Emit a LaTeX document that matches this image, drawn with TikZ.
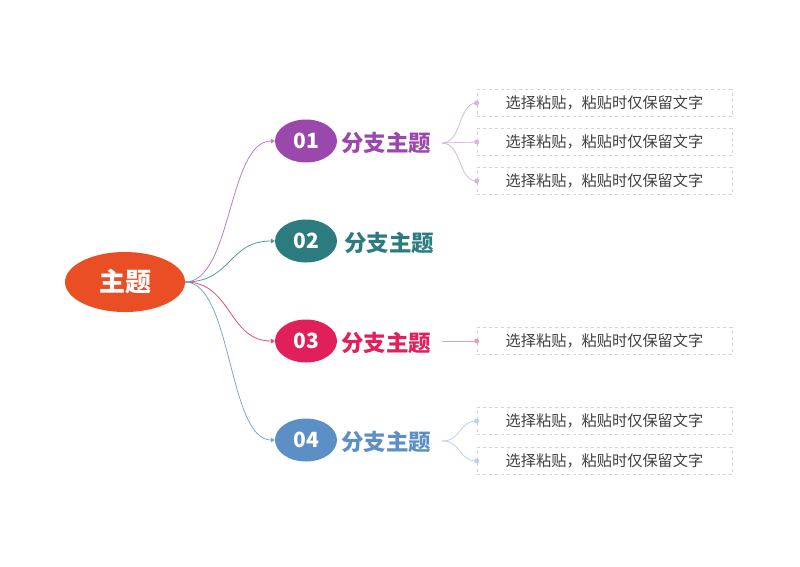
\documentclass[tikz,border=0pt]{standalone}
\usepackage{fontspec}
\setmainfont{Noto Sans CJK SC}
\usetikzlibrary{shapes.geometric, arrows.meta, positioning, calc}

\definecolor{rootred}{HTML}{E94E24}
\definecolor{brpurple}{HTML}{9B48AD}
\definecolor{brteal}{HTML}{2C7B7F}
\definecolor{brred}{HTML}{E01F5B}
\definecolor{brblue}{HTML}{5D8FC7}
\definecolor{leafgray}{HTML}{404040}
\definecolor{boxline}{HTML}{D9D0DA}

\begin{document}
\begin{tikzpicture}[x=1pt, y=-1pt,
  rootnode/.style={ellipse, fill=rootred, text=white, font=\fontsize{26}{26}\selectfont\bfseries, minimum width=120pt, minimum height=60pt, inner sep=0pt},
  brnode/.style={ellipse, fill=#1, text=white, font=\fontsize{21}{21}\selectfont\bfseries, minimum width=62pt, minimum height=43pt, inner sep=0pt},
  brlabel/.style={anchor=west, text=#1, font=\fontsize{22.5}{22.5}\selectfont\bfseries, inner sep=0pt},
  leafbox/.style={draw=boxline, dashed, line width=0.6pt, minimum width=255pt, minimum height=27pt, inner sep=0pt, text=leafgray, font=\fontsize{15.2}{15.2}\selectfont},
  leafdot/.style={circle, fill=#1, inner sep=0pt, minimum size=5pt},
  rootlink/.style={draw=#1, line width=0.8pt, -{Triangle[length=4pt, width=5pt]}},
  leaflink/.style={draw=#1, line width=0.8pt}
]
\useasboundingbox (0,0) rectangle (800,566);

% Central topic
\node[rootnode] (root) at (125,282) {主题};

% Branches
\node[brnode=brpurple] (br1) at (306,141) {01};
\node[brlabel=brpurple] (br1lab) at (341,143) {分支主题};
\node[brnode=brteal] (br2) at (306,241) {02};
\node[brlabel=brteal] (br2lab) at (344,243) {分支主题};
\node[brnode=brred] (br3) at (306,341) {03};
\node[brlabel=brred] (br3lab) at (341,343) {分支主题};
\node[brnode=brblue] (br4) at (306,440) {04};
\node[brlabel=brblue] (br4lab) at (341,442) {分支主题};

\coordinate (hub) at (185,282);
\draw[rootlink=brpurple!70] (hub) .. controls (232,282) and (228,141) .. (br1.west);
\draw[rootlink=brteal!80] (hub) .. controls (232,282) and (228,241) .. (br2.west);
\draw[rootlink=brred!80] (hub) .. controls (232,282) and (228,341) .. (br3.west);
\draw[rootlink=brblue!80] (hub) .. controls (232,282) and (228,440) .. (br4.west);

% Leaves of 01
\node[leafbox] (l11) at (604.5,103) {选择粘贴，粘贴时仅保留文字};
\node[leafbox] (l12) at (604.5,142) {选择粘贴，粘贴时仅保留文字};
\node[leafbox] (l13) at (604.5,181) {选择粘贴，粘贴时仅保留文字};
\coordinate (f1) at (442,143);
\draw[leaflink=brpurple!40] (f1) .. controls (462,143) and (458,103) .. (l11.west);
\draw[leaflink=brpurple!40] (f1) -- (l12.west);
\draw[leaflink=brpurple!40] (f1) .. controls (462,143) and (458,181) .. (l13.west);
\node[leafdot=brpurple!40] at (l11.west) {};
\node[leafdot=brpurple!40] at (l12.west) {};
\node[leafdot=brpurple!40] at (l13.west) {};

% Leaf of 03
\node[leafbox] (l31) at (604.5,341) {选择粘贴，粘贴时仅保留文字};
\coordinate (f3) at (442,341);
\draw[leaflink=brred!45] (f3) -- (l31.west);
\node[leafdot=brred!45] at (l31.west) {};

% Leaves of 04
\node[leafbox] (l41) at (604.5,421) {选择粘贴，粘贴时仅保留文字};
\node[leafbox] (l42) at (604.5,461) {选择粘贴，粘贴时仅保留文字};
\coordinate (f4) at (442,441);
\draw[leaflink=brblue!40] (f4) .. controls (462,441) and (458,421) .. (l41.west);
\draw[leaflink=brblue!40] (f4) .. controls (462,441) and (458,461) .. (l42.west);
\node[leafdot=brblue!40] at (l41.west) {};
\node[leafdot=brblue!40] at (l42.west) {};
\end{tikzpicture}
\end{document}
